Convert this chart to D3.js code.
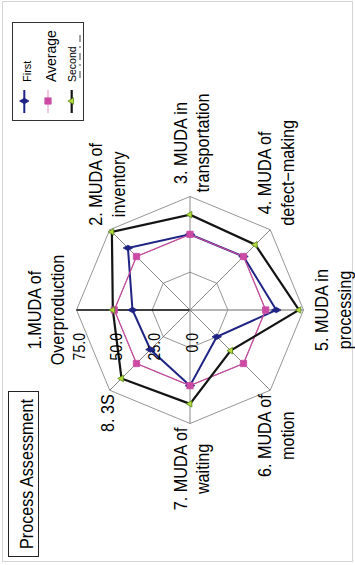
<!DOCTYPE html>
<html>
<head>
<meta charset="utf-8">
<script src="https://cdn.jsdelivr.net/npm/d3@7"></script>
<style>
  html, body { margin: 0; padding: 0; background: #fff; }
  svg { display: block; }
  text { font-family: "Liberation Sans", Arial, sans-serif; fill: #000; }
</style>
</head>
<body>
<svg id="chart" width="355" height="565"></svg>
<script>
// Radar categories (each entry = label lines)
const categories = [
  ["1.MUDA of", "Overproduction"],
  ["2. MUDA of", "inventory"],
  ["3. MUDA in", "transportation"],
  ["4. MUDA of", "defect\u2212making"],
  ["5. MUDA in", "processing"],
  ["6. MUDA of", "motion"],
  ["7. MUDA of", "waiting"],
  ["8. 3S"]
];
const seriesNames = ["First", "Average", "Second"];
const firstValues   = [38, 58, 50, 50, 57, 25, 50, 37];
const averageValues = [50, 50, 50, 50, 50, 50, 50, 50];
const secondValues  = [51, 73, 63, 61, 72, 38, 62, 64];
const tickValues = [0, 25, 50, 75];
const tickLabels = ["0.0", "25.0", "50.0", "75.0"];
const titleText = "Process Assessment";

const svg = d3.select("#chart");
const cx = 190, cy = 310, R = 113.5;
const n = categories.length;

const r = d3.scaleLinear().domain([0, 75]).range([0, R]);
// lineRadial convention: 0 = up, clockwise. First axis points left.
const ang = d3.scaleLinear().domain([0, n]).range([-Math.PI / 2, 1.5 * Math.PI]);
const pt = (i, v) => [cx + r(v) * Math.sin(ang(i)), cy - r(v) * Math.cos(ang(i))];

// outer border
svg.append("rect").attr("x", 2.5).attr("y", 1.5).attr("width", 350).attr("height", 560)
  .attr("fill", "none").attr("stroke", "#d4d4d4").attr("stroke-width", 1);

const plot = svg.append("g").attr("transform", `translate(${cx},${cy})`);
const ring = d3.lineRadial().angle((d, i) => ang(i)).radius(d => r(d)).curve(d3.curveLinearClosed);

// grid rings
tickValues.filter(t => t > 0).forEach(t => {
  plot.append("path").attr("d", ring(d3.range(n).map(() => t)))
    .attr("fill", "none").attr("stroke", "#7a7a7a").attr("stroke-width", 0.8);
});
// spokes
d3.range(n).forEach(i => {
  const [x, y] = pt(i, 75);
  plot.append("line").attr("x1", 0).attr("y1", 0).attr("x2", x - cx).attr("y2", y - cy)
    .attr("stroke", i === 0 ? "#000" : (i === 4 ? "#9a9a9a" : "#6a6a6a"))
    .attr("stroke-width", i === 0 ? 1.3 : (i === 4 ? 1.6 : 0.8));
});

// value-axis tick labels
tickValues.forEach((t, k) => {
  const [x] = pt(0, t);
  svg.append("text")
    .attr("transform", `translate(${x + 8},333) rotate(-90) scale(0.88,1)`)
    .attr("text-anchor", "end").style("font-size", "16px").text(tickLabels[k]);
});

// category labels
const LF = 18, LS = 0.9, gap = 23;
categories.forEach((lines, i) => {
  const a = ang(i);
  const [vx, vy] = pt(i, 75);
  const dx = Math.sin(a), dy = -Math.cos(a);
  const g = svg.append("g");
  const t = g.append("text").attr("text-anchor", "middle").style("font-size", LF + "px");
  const m = lines.length;
  const spans = lines.map((s, k) =>
    t.append("tspan").attr("x", 0).attr("y", (k - (m - 1) / 2) * gap + 6).text(s));
  const len = d3.max(spans, s => s.node().getComputedTextLength()) * LS;
  let px, py;
  if (Math.abs(dy) < 0.01) {
    px = vx + Math.sign(dx) * 30; py = vy;
  } else {
    px = vx + 2 + 4 * Math.sign(Math.round(dx * 10));
    py = vy + Math.sign(dy) * (4 + len / 2);
  }
  g.attr("transform", `translate(${px},${py}) rotate(-90) scale(${LS},1)`);
});

// series
const series = [
  { name: seriesNames[0], values: firstValues, color: "#1e2384", width: 2, sym: d3.symbolDiamond, size: 26, fill: "#1e2384", stroke: "#1e2384", legendLine: "#1e2384" },
  { name: seriesNames[1], values: averageValues, color: "#c8489e", width: 1.2, sym: d3.symbolSquare, size: 40, fill: "#cc4aa4", stroke: "#cc4aa4", legendLine: "#e6a3d2" },
  { name: seriesNames[2], values: secondValues, color: "#141414", width: 2.2, sym: d3.symbolTriangle, size: 18, fill: "#bcd93c", stroke: "#4f8a16", legendLine: "#141414" }
];
const lineR = d3.lineRadial().angle((d, i) => ang(i)).radius(d => r(d)).curve(d3.curveLinearClosed);
series.forEach(s => {
  plot.append("path").attr("d", lineR(s.values)).attr("fill", "none")
    .attr("stroke", s.color).attr("stroke-width", s.width).attr("stroke-linejoin", "miter");
  s.values.forEach((v, i) => {
    const [x, y] = pt(i, v);
    svg.append("path").attr("d", d3.symbol().type(s.sym).size(s.size)())
      .attr("transform", `translate(${x},${y}) rotate(-90)`)
      .attr("fill", s.fill).attr("stroke", s.stroke).attr("stroke-width", 0.8);
  });
});

// legend
svg.append("rect").attr("x", 12.5).attr("y", 22.5).attr("width", 71).attr("height", 98)
  .attr("fill", "#fff").attr("stroke", "#333").attr("stroke-width", 1);
const legendX = d3.scalePoint().domain(seriesNames).range([24.3, 71.7]);
const legendFont = { First: 11, Average: 14, Second: 10.5 };
const legendBase = { First: 7, Average: 8, Second: 4 };
series.forEach(s => {
  const x = legendX(s.name);
  svg.append("line").attr("x1", x).attr("x2", x).attr("y1", 90).attr("y2", 113)
    .attr("stroke", s.legendLine).attr("stroke-width", s.width);
  svg.append("path").attr("d", d3.symbol().type(s.sym).size(s.size)())
    .attr("transform", `translate(${x},101) rotate(-90)`)
    .attr("fill", s.fill).attr("stroke", s.stroke).attr("stroke-width", 0.8);
  svg.append("text").attr("transform", `translate(${x + legendBase[s.name]},82) rotate(-90)`)
    .attr("text-anchor", "start").style("font-size", legendFont[s.name] + "px").text(s.name);
});
// faint trailing marks under the last legend entry
svg.append("line").attr("x1", 80).attr("x2", 80).attr("y1", 78).attr("y2", 34)
  .attr("stroke", "#444").attr("stroke-width", 1).attr("stroke-dasharray", "7,5,2,4");

// title box
svg.append("rect").attr("x", 8.5).attr("y", 391.5).attr("width", 30).attr("height", 165)
  .attr("fill", "#fff").attr("stroke", "#222").attr("stroke-width", 1);
svg.append("text").attr("transform", "translate(33,474) rotate(-90) scale(0.85,1)")
  .attr("text-anchor", "middle").style("font-size", "19px").text(titleText);
</script>
</body>
</html>
